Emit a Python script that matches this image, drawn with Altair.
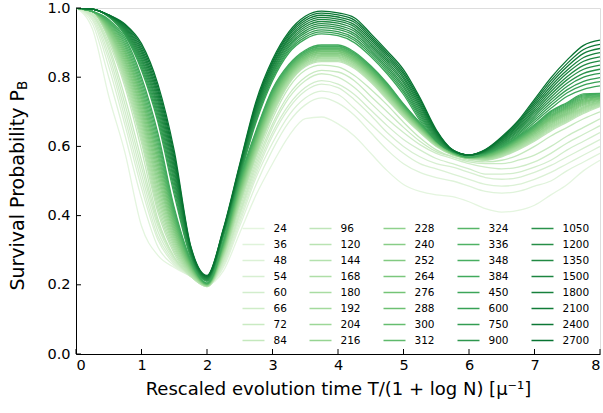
import altair as alt
import pandas as pd

# ---- data ----
t_grid = [0, 0.25, 0.5, 0.75, 1, 1.25, 1.5, 1.75, 2, 2.25, 2.5, 2.75, 3, 3.25, 3.5, 3.75,
          4, 4.25, 4.5, 4.75, 5, 5.25, 5.5, 5.75, 6, 6.25, 6.5, 6.75, 7, 7.25, 7.5, 7.75, 8]

N_values = [24, 36, 48, 54, 60, 66, 72, 84,
            96, 120, 144, 168, 180, 192, 204, 216,
            228, 240, 252, 264, 276, 288, 300, 312,
            324, 336, 348, 384, 450, 600, 750, 900,
            1050, 1200, 1350, 1500, 1800, 2100, 2400, 2700]

p24 = [1.0, .94, .745, .58, .37, .285, .25, .225, .20, .24, .35, .46, .55, .63, .68, .685, .665, .63, .58, .53, .49, .47, .46, .455, .44, .42, .41, .415, .43, .46, .49, .53, .56]
p36 = [1.0, .955, .80, .63, .45, .31, .255, .225, .20, .25, .37, .49, .59, .67, .72, .74, .725, .69, .64, .59, .55, .525, .51, .50, .485, .47, .465, .47, .485, .50, .53, .555, .58]
p48 = [1.0, .965, .83, .66, .48, .33, .26, .225, .20, .255, .38, .51, .61, .69, .74, .76, .75, .71, .665, .62, .58, .55, .535, .52, .505, .49, .485, .49, .505, .525, .55, .575, .60]
p54 = [1.0, .97, .85, .68, .50, .34, .265, .225, .20, .26, .39, .52, .63, .71, .76, .78, .77, .735, .69, .64, .60, .57, .55, .54, .525, .51, .505, .51, .525, .545, .57, .595, .62]
p60 = [1.0, .975, .865, .70, .52, .355, .27, .225, .20, .265, .40, .53, .64, .72, .77, .79, .78, .75, .705, .66, .62, .59, .565, .55, .535, .52, .52, .525, .54, .56, .59, .615, .64]
p66 = [1.0, .98, .88, .72, .54, .37, .275, .225, .20, .27, .405, .54, .655, .74, .79, .81, .80, .77, .725, .68, .64, .605, .58, .565, .55, .54, .535, .54, .555, .58, .61, .635, .66]
p72 = [1.0, .98, .89, .74, .56, .38, .28, .225, .195, .27, .41, .55, .665, .75, .80, .82, .815, .79, .745, .70, .655, .615, .585, .57, .555, .55, .55, .56, .575, .60, .63, .655, .68]
p84 = [1.0, .985, .90, .77, .59, .39, .28, .225, .195, .275, .42, .56, .68, .77, .82, .835, .83, .805, .765, .72, .67, .625, .59, .57, .56, .555, .56, .575, .60, .63, .655, .68, .70]

p96 = [1, .99, .910, .780, .610, .410, .290, .225, .195, .280, .430, .570, .690, .780, .830, .845, .845, .825, .785, .735, .685, .640, .600, .575, .565, .560, .570, .590, .615, .645, .670, .695, .715]
p120 = [1, .99, .913, .787, .620, .422, .297, .228, .196, .283, .434, .574, .694, .783, .833, .848, .848, .828, .788, .738, .687, .642, .601, .576, .565, .561, .572, .592, .618, .648, .673, .698, .717]
p144 = [1, .99, .916, .794, .630, .434, .304, .230, .196, .285, .438, .578, .698, .786, .835, .850, .850, .830, .790, .740, .689, .643, .602, .576, .565, .562, .573, .594, .620, .651, .676, .701, .719]
p168 = [1, .99, .919, .801, .640, .446, .311, .233, .197, .288, .442, .582, .702, .789, .838, .853, .853, .833, .793, .743, .691, .645, .603, .577, .565, .563, .575, .596, .623, .654, .679, .704, .721]
p180 = [1, .99, .922, .808, .650, .458, .318, .235, .197, .290, .446, .586, .706, .792, .840, .855, .855, .835, .795, .745, .693, .646, .604, .577, .566, .564, .576, .598, .625, .657, .682, .707, .723]
p192 = [1, .99, .925, .815, .660, .470, .325, .238, .198, .293, .450, .590, .710, .795, .843, .858, .858, .838, .798, .748, .695, .648, .605, .578, .566, .565, .578, .600, .628, .660, .685, .710, .725]
p204 = [1, .99, .928, .822, .670, .482, .332, .240, .198, .295, .454, .594, .714, .798, .845, .860, .860, .840, .800, .750, .697, .649, .606, .578, .566, .566, .579, .602, .630, .663, .688, .713, .727]
p216 = [1, .99, .931, .829, .680, .494, .339, .243, .199, .298, .458, .598, .718, .801, .848, .863, .863, .843, .803, .753, .699, .651, .607, .579, .566, .567, .581, .604, .633, .666, .691, .716, .729]
p228 = [1, .99, .934, .836, .690, .506, .346, .245, .199, .300, .462, .602, .722, .804, .850, .865, .865, .845, .805, .755, .701, .652, .608, .579, .567, .568, .582, .606, .635, .669, .694, .719, .731]
p240 = [1, .99, .937, .843, .700, .518, .353, .248, .200, .303, .466, .606, .726, .807, .853, .868, .868, .848, .808, .758, .703, .654, .609, .580, .567, .569, .584, .608, .638, .672, .697, .722, .733]
p252 = [1, .99, .940, .850, .710, .530, .360, .250, .200, .305, .470, .610, .730, .810, .855, .870, .870, .850, .810, .760, .705, .655, .610, .580, .567, .570, .585, .610, .640, .675, .700, .725, .735]
p264 = [1, .99, .943, .857, .720, .542, .367, .253, .201, .308, .474, .614, .734, .813, .858, .873, .873, .853, .813, .763, .707, .657, .611, .581, .567, .571, .587, .612, .643, .678, .703, .728, .737]
p276 = [1, .99, .946, .864, .730, .554, .374, .255, .201, .310, .478, .618, .738, .816, .860, .875, .875, .855, .815, .765, .709, .658, .612, .581, .568, .572, .588, .614, .645, .681, .706, .731, .739]
p288 = [1, .99, .949, .871, .740, .566, .381, .258, .202, .313, .482, .622, .742, .819, .863, .878, .878, .858, .818, .768, .711, .660, .613, .582, .568, .573, .590, .616, .648, .684, .709, .734, .741]
p300 = [1, .99, .952, .878, .750, .578, .388, .260, .202, .315, .486, .626, .746, .822, .865, .880, .880, .860, .820, .770, .713, .661, .614, .582, .568, .574, .591, .618, .650, .687, .712, .737, .743]
p312 = [1, .99, .955, .885, .760, .590, .395, .263, .203, .318, .490, .630, .750, .825, .868, .883, .883, .863, .823, .773, .715, .663, .615, .583, .568, .575, .593, .620, .653, .690, .715, .740, .745]
p324 = [1, .99, .958, .892, .770, .602, .402, .265, .203, .320, .494, .634, .754, .828, .870, .885, .885, .865, .825, .775, .717, .664, .616, .583, .569, .576, .594, .622, .655, .693, .718, .743, .747]
p336 = [1, .99, .961, .899, .780, .614, .409, .268, .204, .323, .498, .638, .758, .831, .873, .888, .888, .868, .828, .778, .719, .666, .617, .584, .569, .577, .596, .624, .658, .696, .721, .746, .749]
p348 = [1, .99, .964, .906, .790, .626, .416, .270, .204, .325, .502, .642, .762, .834, .875, .890, .890, .870, .830, .780, .721, .667, .618, .584, .569, .578, .597, .626, .660, .699, .724, .749, .751]
p384 = [1, .99, .967, .913, .800, .638, .423, .273, .205, .328, .506, .646, .766, .837, .878, .893, .893, .873, .833, .783, .723, .669, .619, .585, .569, .579, .599, .628, .663, .702, .727, .752, .753]

p450 = [1, .997, .975, .920, .820, .670, .460, .280, .210, .340, .510, .670, .790, .870, .910, .925, .920, .900, .860, .810, .750, .675, .615, .585, .575, .580, .600, .630, .670, .710, .745, .765, .775]
p600 = [1, .997, .975, .923, .827, .680, .472, .283, .212, .342, .514, .676, .796, .876, .916, .931, .926, .907, .866, .816, .757, .681, .618, .585, .575, .581, .603, .634, .676, .718, .755, .777, .787]
p750 = [1, .997, .976, .926, .834, .690, .483, .286, .213, .344, .517, .681, .801, .881, .922, .937, .932, .913, .872, .822, .763, .687, .621, .586, .575, .582, .605, .638, .682, .726, .764, .788, .799]
p900 = [1, .997, .976, .929, .841, .700, .495, .289, .215, .346, .521, .687, .807, .887, .928, .943, .938, .920, .878, .828, .770, .693, .624, .586, .575, .583, .608, .642, .688, .734, .774, .800, .811]
p1050 = [1, .997, .977, .932, .848, .710, .506, .292, .216, .348, .524, .692, .812, .892, .934, .949, .944, .926, .884, .834, .776, .699, .627, .587, .575, .584, .610, .646, .694, .742, .783, .811, .823]
p1200 = [1, .997, .977, .935, .855, .720, .518, .295, .218, .350, .528, .698, .818, .898, .940, .955, .950, .933, .890, .840, .783, .705, .630, .587, .575, .585, .613, .650, .700, .750, .793, .823, .835]
p1350 = [1, .997, .978, .938, .862, .730, .529, .298, .219, .352, .531, .703, .823, .903, .946, .961, .956, .939, .896, .846, .789, .711, .633, .588, .575, .586, .615, .654, .706, .758, .802, .834, .847]
p1500 = [1, .997, .978, .941, .869, .740, .541, .301, .221, .354, .535, .709, .829, .909, .952, .967, .962, .946, .902, .852, .796, .717, .636, .588, .575, .587, .618, .658, .712, .766, .812, .846, .859]
p1800 = [1, .997, .979, .944, .876, .750, .552, .304, .222, .356, .538, .714, .834, .914, .958, .973, .968, .952, .908, .858, .802, .723, .639, .589, .575, .588, .620, .662, .718, .774, .821, .857, .871]
p2100 = [1, .997, .979, .947, .883, .760, .564, .307, .224, .358, .542, .720, .840, .920, .964, .979, .974, .959, .914, .864, .809, .729, .642, .589, .575, .589, .623, .666, .724, .782, .831, .869, .883]
p2400 = [1, .997, .980, .950, .890, .770, .575, .310, .225, .360, .545, .725, .845, .925, .970, .985, .980, .965, .920, .870, .815, .735, .645, .590, .575, .590, .625, .670, .730, .790, .840, .880, .895]
p2700 = [1, .997, .980, .953, .897, .780, .587, .313, .227, .362, .549, .731, .851, .931, .976, .991, .986, .972, .926, .876, .822, .741, .648, .590, .575, .591, .628, .674, .736, .798, .850, .892, .907]

curves = [p24, p36, p48, p54, p60, p66, p72, p84,
          p96, p120, p144, p168, p180, p192, p204, p216,
          p228, p240, p252, p264, p276, p288, p300, p312,
          p324, p336, p348, p384, p450, p600, p750, p900,
          p1050, p1200, p1350, p1500, p1800, p2100, p2400, p2700]

x_ticks = [0, 1, 2, 3, 4, 5, 6, 7, 8]
y_ticks = [0.0, 0.2, 0.4, 0.6, 0.8, 1.0]

# ---- table ----
rows = []
for n, ys in zip(N_values, curves):
    for t, p in zip(t_grid, ys):
        rows.append({"t": t, "p": p, "N": str(n)})
df = pd.DataFrame(rows)

# ---- colours: a Greens-like ramp (style) ----
stops = [(0.0, "#f7fcf5"), (0.125, "#e5f5e0"), (0.25, "#c7e9c0"), (0.375, "#a1d99b"),
         (0.5, "#74c476"), (0.625, "#41ab5d"), (0.75, "#238b45"), (0.875, "#006d2c"), (1.0, "#00441b")]


def ramp(v):
    for (a, ca), (b, cb) in zip(stops[:-1], stops[1:]):
        if a <= v <= b:
            f = (v - a) / (b - a)
            c1 = [int(ca[i:i + 2], 16) for i in (1, 3, 5)]
            c2 = [int(cb[i:i + 2], 16) for i in (1, 3, 5)]
            return "#" + "".join("%02x" % round(x + (y - x) * f) for x, y in zip(c1, c2))
    return stops[-1][1]


nser = len(N_values)
palette = [ramp(0.13 + 0.72 * i / (nser - 1)) for i in range(nser)]
legend_order = [str(n) for n in N_values]

FONT = "DejaVu Sans"
W, H = 524, 346

x_scale = alt.Scale(domain=[0, 8], nice=False, zero=False)
y_scale = alt.Scale(domain=[0, 1], nice=False, zero=False)

lines = alt.Chart(df).mark_line(interpolate="monotone", strokeWidth=1.3, clip=True).encode(
    x=alt.X("t:Q", scale=x_scale,
            axis=alt.Axis(values=x_ticks, format="d", ticks=False, grid=False,
                          labelFont=FONT, labelFontSize=14.5, labelColor="black", labelPadding=4,
                          domainColor="black", domainWidth=1,
                          title="Rescaled evolution time T/(1 + log N) [μ⁻¹]",
                          titleFont=FONT, titleFontSize=18, titleFontWeight="normal",
                          titleColor="black", titleBaseline="middle", titleY=35, titleX=W / 2)),
    y=alt.Y("p:Q", scale=y_scale,
            axis=alt.Axis(values=y_ticks, format=".1f", ticks=False, grid=False,
                          labelFont=FONT, labelFontSize=14.5, labelColor="black", labelPadding=6,
                          domainColor="black", domainWidth=1, title=None)),
    color=alt.Color("N:N", scale=alt.Scale(domain=legend_order, range=palette),
                    legend=alt.Legend(orient="none", legendX=171, legendY=214, columns=5,
                                      gridAlign="each",
                                      title=None, padding=0, symbolLimit=60,
                                      symbolType="M-2,0H2", symbolSize=121, symbolStrokeWidth=1.5,
                                      labelFont=FONT, labelFontSize=10.5, labelColor="black",
                                      labelOffset=13.5, columnPadding=19, rowPadding=4)),
)

xt = alt.Chart(pd.DataFrame({"t": x_ticks})).mark_rule(color="black", strokeWidth=1).encode(
    x=alt.X("t:Q", scale=x_scale), y=alt.value(H - 5), y2=alt.value(H))
yt = alt.Chart(pd.DataFrame({"p": y_ticks})).mark_rule(color="black", strokeWidth=1).encode(
    y=alt.Y("p:Q", scale=y_scale), x=alt.value(0), x2=alt.value(5))

ytitle = alt.Chart(pd.DataFrame({"s": ["Survival Probability P"]})).mark_text(
    angle=270, align="right", baseline="middle", font=FONT, fontSize=19, color="black").encode(
    text="s:N", x=alt.value(-58), y=alt.value(82))
ysub = alt.Chart(pd.DataFrame({"s": ["B"]})).mark_text(
    angle=270, align="left", baseline="middle", font=FONT, fontSize=13.5, color="black").encode(
    text="s:N", x=alt.value(-53), y=alt.value(82))

chart = alt.layer(lines, xt, yt, ytitle, ysub).properties(
    width=W, height=H,
    padding={"left": 76, "top": 8, "right": 3, "bottom": 59},
    autosize=alt.AutoSizeParams(type="none"),
).configure_view(stroke="black", strokeWidth=1).configure(background="white")

chart.save("out.html", embed_options={"renderer": "svg", "actions": False})
